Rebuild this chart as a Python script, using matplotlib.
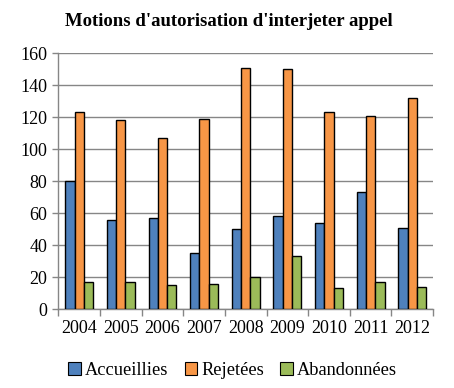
import matplotlib
matplotlib.use("Agg")
import matplotlib.pyplot as plt
import numpy as np
from matplotlib.patches import Patch

years = ["2004", "2005", "2006", "2007", "2008", "2009", "2010", "2011", "2012"]
accueillies = [80, 56, 57, 35, 50, 58, 54, 73, 51]
rejetees = [123, 118, 107, 119, 151, 150, 123, 121, 132]
abandonnees = [17, 17, 15, 16, 20, 33, 13, 17, 14]
series_names = ["Accueillies", "Rejetées", "Abandonnées"]
colors = ["#4F81BD", "#F79646", "#9BBB59"]
yticks = [0, 20, 40, 60, 80, 100, 120, 140, 160]

plt.rcParams["font.family"] = ["Liberation Serif", "DejaVu Serif"]

fig = plt.figure(figsize=(4.54, 3.88), dpi=100)
ax = fig.add_axes([0.1285, 0.203, 0.8255, 0.6596])

x = np.arange(len(years))
w = 0.223
for i, (vals, c) in enumerate(zip([accueillies, rejetees, abandonnees], colors)):
    ax.bar(x + (i - 1) * w, vals, width=w, color=c, edgecolor="black", linewidth=1.0, zorder=3)

ax.set_xlim(-0.5, len(years) - 0.5)
ax.set_ylim(0, 160)
ax.set_yticks(yticks)
ax.set_yticklabels([str(t) for t in yticks], fontsize=13)
ax.set_xticks(x)
ax.set_xticklabels(years, fontsize=13)
ax.tick_params(axis="x", length=0, pad=8)
ax.set_xticks(np.arange(-0.5, len(years), 1.0), minor=True)
ax.tick_params(axis="x", which="minor", length=5, color="#868686", width=1)
ax.tick_params(axis="y", length=4, color="#868686", width=1, pad=4)
ax.yaxis.grid(True, color="#868686", linewidth=1, zorder=0)
ax.set_axisbelow(True)
for s in ["top", "right"]:
    ax.spines[s].set_visible(False)
for s in ["left", "bottom"]:
    ax.spines[s].set_color("#868686")
    ax.spines[s].set_linewidth(1)

fig.text(0.505, 0.945, "Motions d'autorisation d'interjeter appel", ha="center", va="center",
         fontsize=13.5, fontweight="bold")

handles = [Patch(facecolor=c, edgecolor="black", linewidth=0.8) for c in colors]
fig.legend(handles, series_names, loc="center", bbox_to_anchor=(0.512, 0.045), ncol=3,
           frameon=False, fontsize=13.2, handlelength=0.7, handleheight=0.7,
           handletextpad=0.2, columnspacing=0.9)

fig.savefig("out.png", dpi=100)
